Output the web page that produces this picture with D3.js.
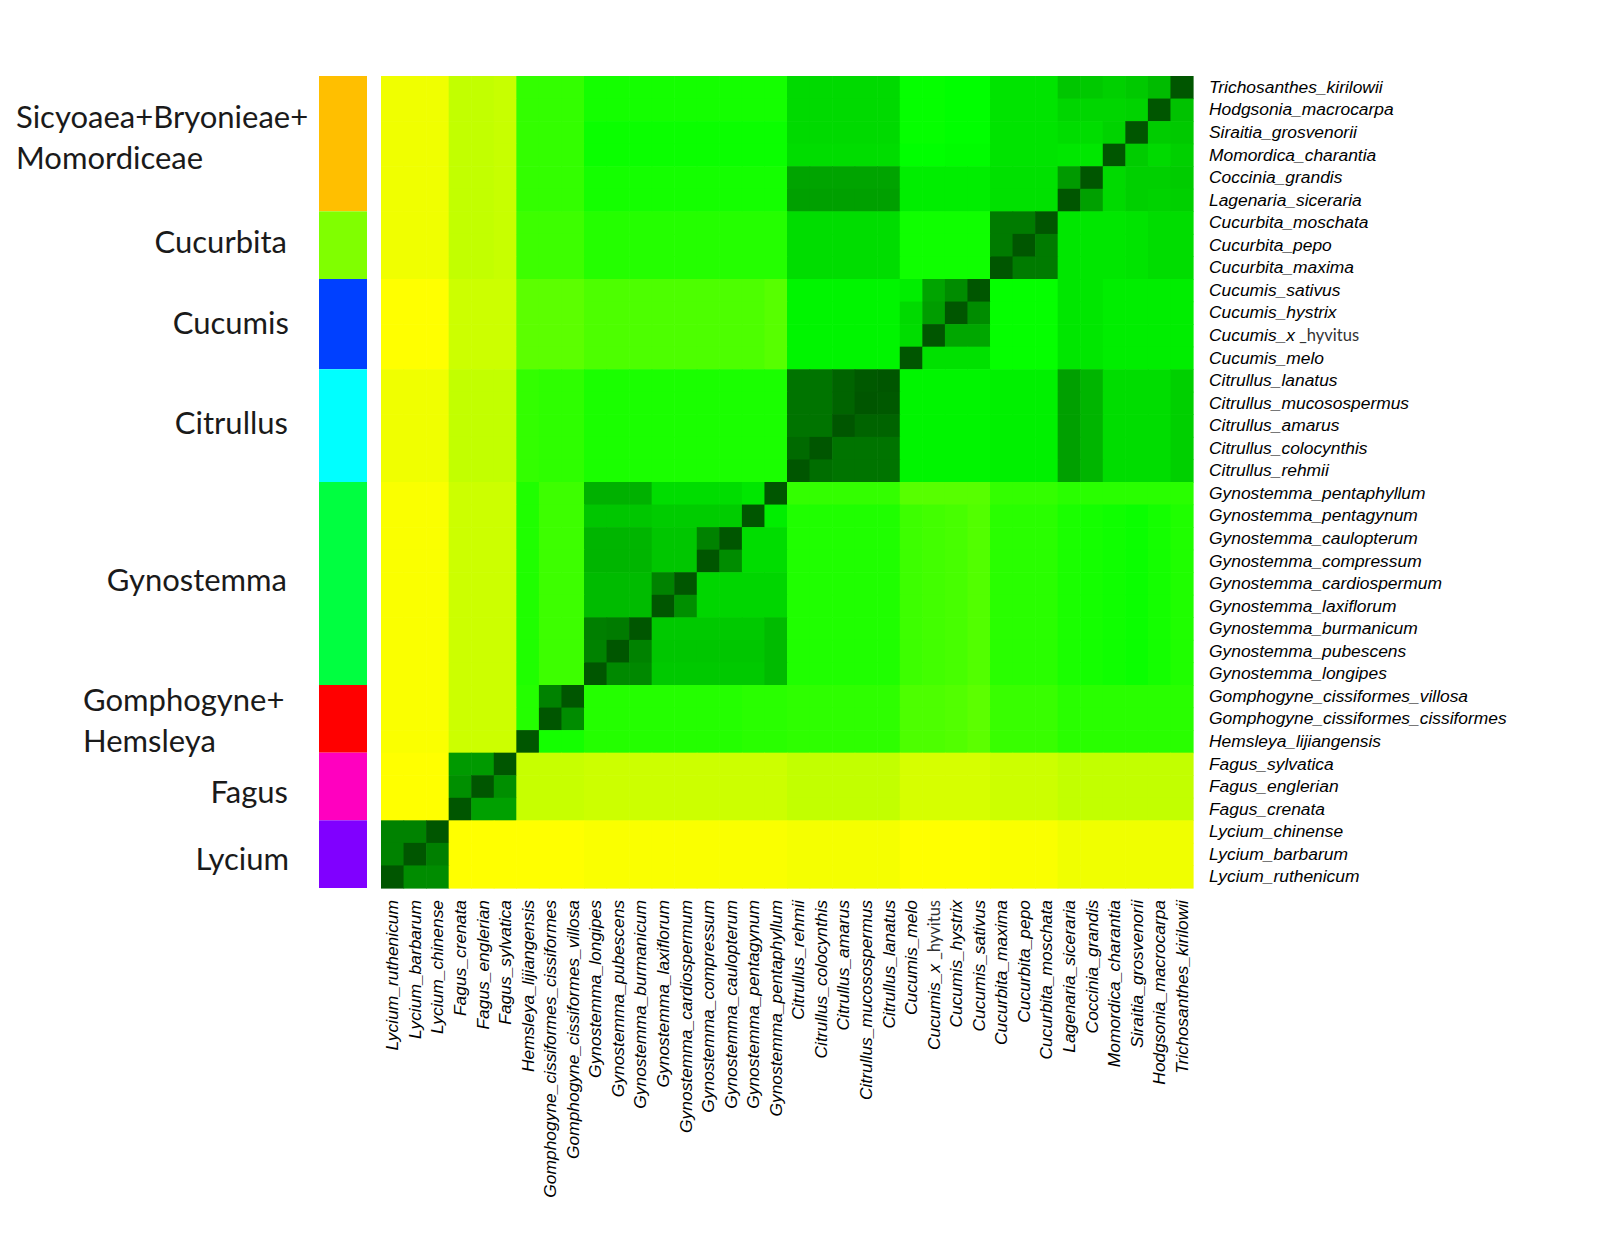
<!DOCTYPE html>
<html>
<head>
<meta charset="utf-8">
<script src="https://cdn.jsdelivr.net/npm/d3@7"></script>
<style>body{margin:0;background:#fff}</style>
</head>
<body>
<svg id="chart" width="1600" height="1234"></svg>
<script>
// ---------- DATA ----------
// species, ordered top -> bottom (rows); columns are the reverse order
const species = [
  "Trichosanthes_kirilowii","Hodgsonia_macrocarpa","Siraitia_grosvenorii","Momordica_charantia",
  "Coccinia_grandis","Lagenaria_siceraria","Cucurbita_moschata","Cucurbita_pepo","Cucurbita_maxima",
  "Cucumis_sativus","Cucumis_hystrix","Cucumis_x_hyvitus","Cucumis_melo",
  "Citrullus_lanatus","Citrullus_mucosospermus","Citrullus_amarus","Citrullus_colocynthis","Citrullus_rehmii",
  "Gynostemma_pentaphyllum","Gynostemma_pentagynum","Gynostemma_caulopterum","Gynostemma_compressum",
  "Gynostemma_cardiospermum","Gynostemma_laxiflorum","Gynostemma_burmanicum","Gynostemma_pubescens",
  "Gynostemma_longipes","Gomphogyne_cissiformes_villosa","Gomphogyne_cissiformes_cissiformes",
  "Hemsleya_lijiangensis","Fagus_sylvatica","Fagus_englerian","Fagus_crenata",
  "Lycium_chinense","Lycium_barbarum","Lycium_ruthenicum"
];
const colSpecies = species.slice().reverse();

const groupNames = [
  ["Sicyoaea+Bryonieae+","Momordiceae"],["Cucurbita"],["Cucumis"],["Citrullus"],
  ["Gynostemma"],["Gomphogyne+","Hemsleya"],["Fagus"],["Lycium"]
];
const groupSizes = [6,3,4,5,9,3,3,3];
const groupColors = ["#FFBF00","#80FF00","#0040FF","#00FFFF","#00FF40","#FF0000","#FF00BF","#8000FF"];

// similarity (0 = yellow, 50 = green, 100 = dark green); row i = species[i], column j = colSpecies[j]
const similarity = [
 [3,3,3,12,12,11,40,40,40,46,46,46,46,46,46,46,46,46,61,61,61,61,61,49,49,50,50,58,58,58,67,66,64,66,70,100],
 [3,3,3,12,12,11,40,40,40,46,46,46,46,46,46,46,46,46,61,61,61,61,61,49,49,50,50,58,58,58,62,62,62,63,100,68],
 [3,3,3,12,12,11,40,40,40,48,48,48,48,48,48,48,48,48,61,61,61,61,61,49,49,50,50,58,58,58,60,60,63,100,65,66],
 [3,3,3,12,12,11,40,40,40,48,48,48,48,48,48,48,48,48,60,60,60,60,60,50,50,51,51,58,58,58,57,57,100,65,61,64],
 [3,3,3,12,12,11,40,40,40,46,46,46,46,46,46,46,46,46,77,77,77,77,77,55,55,55,55,59,59,59,80,100,61,64,64,65],
 [3,3,3,12,12,11,40,40,40,46,46,46,46,46,46,46,46,46,78,78,78,78,78,55,55,55,55,59,59,59,100,78,61,64,63,64],
 [3,3,3,12,12,11,38,38,38,43,43,43,43,43,43,43,43,43,60,60,60,60,60,47,47,47,47,89,89,100,57,57,57,58,60,60],
 [3,3,3,12,12,11,38,38,38,43,43,43,43,43,43,43,43,43,60,60,60,60,60,47,47,47,47,89,100,89,57,57,57,58,60,60],
 [3,3,3,12,12,11,38,38,38,43,43,43,43,43,43,43,43,43,60,60,60,60,60,47,47,47,47,100,89,89,57,57,57,58,60,60],
 [0,0,0,10,10,10,32,32,32,35,35,35,35,35,35,35,35,33,53,53,53,53,53,55,77,84,100,49,49,49,57,57,55,55,55,55],
 [0,0,0,10,10,10,32,32,32,35,35,35,35,35,35,35,35,33,53,53,53,53,53,61,79,100,84,49,49,49,57,57,55,55,55,55],
 [0,0,0,10,10,10,32,32,32,35,35,35,35,35,35,35,35,33,53,53,53,53,53,60,100,76,76,49,49,49,57,57,55,55,55,55],
 [0,0,0,10,10,10,32,32,32,35,35,35,35,35,35,35,35,33,53,53,53,53,53,100,59,59,59,49,49,49,57,57,55,55,55,55],
 [3,3,3,12,12,12,40,41,41,45,45,45,45,45,45,45,45,45,91,91,96,99,100,53,53,53,53,54,54,54,78,72,60,60,60,64],
 [3,3,3,12,12,12,40,41,41,45,45,45,45,45,45,45,45,45,91,91,96,100,99,53,53,53,53,54,54,54,78,72,60,60,60,64],
 [3,3,3,12,12,12,40,41,41,45,45,45,45,45,45,45,45,45,91,91,100,96,96,53,53,53,53,54,54,54,78,72,60,60,60,64],
 [3,3,3,12,12,12,40,41,41,45,45,45,45,45,45,45,45,45,94,100,91,91,91,53,53,53,53,54,54,54,78,72,60,60,60,64],
 [3,3,3,12,12,12,40,41,41,45,45,45,45,45,45,45,45,45,100,93,91,91,91,53,53,53,53,54,54,54,78,72,60,60,60,64],
 [1,1,1,10,10,10,44,38,38,73,73,73,60,60,60,60,57,100,40,40,40,40,40,33,33,33,33,40,40,40,42,42,42,42,42,42],
 [1,1,1,10,10,10,44,38,38,67,67,67,65,65,65,65,100,55,44,44,44,44,44,38,37,36,34,42,42,42,45,46,47,48,46,44],
 [1,1,1,10,10,10,44,38,38,72,72,72,67,67,87,100,60,60,44,44,44,44,44,38,37,36,34,42,42,42,45,46,47,48,46,44],
 [1,1,1,10,10,10,44,38,38,72,72,72,67,67,100,84,60,60,44,44,44,44,44,38,37,36,34,42,42,42,45,46,47,48,46,44],
 [1,1,1,10,10,10,44,38,38,70,70,70,87,100,62,62,62,62,44,44,44,44,44,38,37,36,34,42,42,42,45,46,47,48,46,44],
 [1,1,1,10,10,10,44,38,38,70,70,70,100,83,62,62,62,62,44,44,44,44,44,38,37,36,34,42,42,42,45,46,47,48,46,44],
 [1,1,1,10,10,10,44,38,38,88,89,100,66,66,66,66,66,70,44,44,44,44,44,38,37,36,34,42,42,42,45,46,47,48,46,44],
 [1,1,1,10,10,10,44,38,38,87,100,87,67,67,67,67,67,70,44,44,44,44,44,38,37,36,34,42,42,42,45,46,47,48,46,44],
 [1,1,1,10,10,10,44,38,38,100,85,85,66,66,66,66,66,70,44,44,44,44,44,38,37,36,34,42,42,42,45,46,47,48,46,44],
 [1,1,1,10,10,10,43,87,100,43,43,43,43,43,43,43,42,42,41,41,41,41,41,35,35,34,32,39,39,39,42,42,42,42,42,42],
 [1,1,1,10,10,10,43,100,84,43,43,43,43,43,43,43,42,42,41,41,41,41,41,35,35,34,32,39,39,39,42,42,42,42,42,42],
 [1,1,1,10,10,10,100,46,46,43,43,43,43,43,43,43,42,42,41,41,41,41,41,35,35,34,32,39,39,39,42,42,42,42,42,42],
 [0,0,0,80,80,100,11,11,11,10,10,10,10,10,10,10,10,10,12,12,12,12,12,8,8,8,8,10,10,10,12,12,12,12,12,12],
 [0,0,0,83,100,83,11,11,11,10,10,10,10,10,10,10,10,10,12,12,12,12,12,8,8,8,8,10,10,10,12,12,12,12,12,12],
 [0,0,0,100,78,78,11,11,11,10,10,10,10,10,10,10,10,10,12,12,12,12,12,8,8,8,8,10,10,10,12,12,12,12,12,12],
 [87,87,100,0,0,0,0,0,0,1,1,1,1,1,1,1,1,1,2,2,2,2,2,0,0,0,0,1,1,1,3,3,3,3,3,3],
 [87,100,88,0,0,0,0,0,0,1,1,1,1,1,1,1,1,1,2,2,2,2,2,0,0,0,0,1,1,1,3,3,3,3,3,3],
 [100,84,84,0,0,0,0,0,0,1,1,1,1,1,1,1,1,1,2,2,2,2,2,0,0,0,0,1,1,1,3,3,3,3,3,3]
];

// ---------- LAYOUT ----------
const svg = d3.select("#chart");
svg.append("rect").attr("width",1600).attr("height",1234).attr("fill","#fff");

const heat = {left:381, top:76, right:1193, bottom:888};
const x = d3.scaleBand().domain(colSpecies).range([heat.left, heat.right]);
const y = d3.scaleBand().domain(species).range([heat.top, heat.bottom]);
const color = d3.scaleLinear().domain([0,50,100]).range(["#ffff00","#00ff00","#005600"]).clamp(true);

const cells = [];
similarity.forEach((row,i)=>row.forEach((v,j)=>cells.push({r:species[i], c:colSpecies[j], v})));
svg.append("g").selectAll("rect").data(cells).join("rect")
  .attr("x",d=>x(d.c)).attr("y",d=>y(d.r))
  .attr("width",x.bandwidth()+0.6).attr("height",y.bandwidth()+0.6)
  .attr("fill",d=>color(d.v));

// side colour bar
let start = 0;
const groups = groupSizes.map((n,k)=>{
  const g = {k, first:species[start], last:species[start+n-1]};
  start += n; return g;
});
svg.append("g").selectAll("rect").data(groups).join("rect")
  .attr("x",319).attr("width",48)
  .attr("y",d=>y(d.first))
  .attr("height",d=>y(d.last)+y.bandwidth()-y(d.first))
  .attr("fill",d=>groupColors[d.k]);

// group labels
const labelLayout = [
  {x:16, anchor:"start", dy:-16},{x:287, anchor:"end", dy:8},{x:289, anchor:"end", dy:10},
  {x:288, anchor:"end", dy:8},{x:287, anchor:"end", dy:7},{x:83, anchor:"start", dy:-8},
  {x:288, anchor:"end", dy:16},{x:289, anchor:"end", dy:16}
];
const gl = svg.append("g").attr("font-family","Lato, 'Open Sans', sans-serif")
  .attr("font-size",31).attr("fill","#1a1a1a");
groups.forEach(g=>{
  const cy = (y(g.first) + y(g.last) + y.bandwidth())/2;
  const L = labelLayout[g.k];
  groupNames[g.k].forEach((line,li)=>{
    gl.append("text").attr("x",L.x).attr("y",cy + L.dy + li*41)
      .attr("text-anchor",L.anchor).text(line);
  });
});

// axes
const labelFont = "'Liberation Sans', Arial, sans-serif";
function hyvitus(sel){
  sel.filter(d=>d==="Cucumis_x_hyvitus").each(function(){
    const t = d3.select(this); t.text("");
    t.append("tspan").text("Cucumis_x");
    t.append("tspan").attr("font-style","normal").attr("font-family","Lato, sans-serif")
      .attr("font-size",16.5).attr("fill","#333").text(" _hyvitus");
  });
}

const ra = svg.append("g").attr("transform",`translate(${heat.right},0)`)
  .call(d3.axisRight(y).tickSize(0).tickPadding(16));
ra.select(".domain").remove();
ra.selectAll("text").attr("font-family",labelFont).attr("font-size",17.4)
  .attr("font-style","italic").attr("fill","#000").call(hyvitus);

const ba = svg.append("g").attr("transform",`translate(0,${heat.bottom})`)
  .call(d3.axisBottom(x).tickSize(0));
ba.select(".domain").remove();
ba.selectAll("text").attr("font-family",labelFont).attr("font-size",17.4)
  .attr("font-style","italic").attr("fill","#000")
  .attr("text-anchor","end").attr("transform","rotate(-90)")
  .attr("x",-12).attr("y",0).attr("dy","0.35em").call(hyvitus);
</script>
</body>
</html>
